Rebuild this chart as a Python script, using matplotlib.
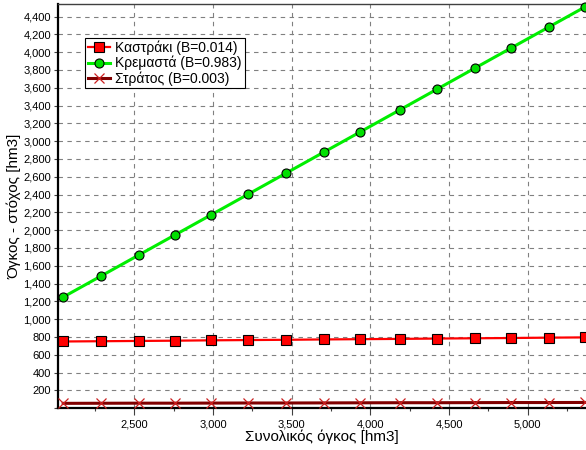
import matplotlib
matplotlib.use("Agg")
import matplotlib.pyplot as plt
from matplotlib.ticker import MultipleLocator, FuncFormatter

plt.rcParams["font.family"] = ["Liberation Sans", "DejaVu Sans"]

# Data
total_volume = [2048, 2290, 2528, 2760, 2985, 3225, 3466, 3704, 3936,
                4186, 4425, 4664, 4894, 5133, 5364]
kastraki = [749, 752, 755, 758, 762, 765, 768, 772, 775,
            778, 782, 785, 788, 792, 795]
kremasta = [1248, 1486, 1720, 1948, 2169, 2405, 2642, 2876, 3104,
            3350, 3585, 3820, 4046, 4281, 4508]
stratos = [54, 55, 56, 56, 57, 58, 58, 59, 60,
           61, 61, 62, 63, 63, 64]

labels = ["Καστράκι (B=0.014)", "Κρεμαστά (B=0.983)", "Στράτος (B=0.003)"]

fig = plt.figure(figsize=(5.86, 4.5), dpi=100)
ax = fig.add_axes([0.099, 0.093, 0.901, 0.898])

ax.plot(total_volume, kastraki, color="#ff0000", lw=1.6, marker="s",
        markersize=6.5, markerfacecolor="#ff0000", markeredgecolor="black",
        markeredgewidth=0.8, label=labels[0], clip_on=False, zorder=4)
ax.plot(total_volume, kremasta, color="#00ee00", lw=2.2, marker="o",
        markersize=6.5, markerfacecolor="#00e000", markeredgecolor="black",
        markeredgewidth=0.8, label=labels[1], clip_on=False, zorder=4)
ax.plot(total_volume, stratos, color="#800000", lw=2.2, marker="x",
        markersize=7, markeredgecolor="#cc2020", markeredgewidth=0.9,
        label=labels[2], clip_on=False, zorder=4)

ax.set_xlim(2015, 5370)
ax.set_ylim(0, 4540)

ax.xaxis.set_major_locator(MultipleLocator(500))
ax.xaxis.set_minor_locator(MultipleLocator(250))
ax.yaxis.set_major_locator(MultipleLocator(200))

fmt = FuncFormatter(lambda v, p: "" if v == 0 else f"{int(v):,}")
ax.xaxis.set_major_formatter(fmt)
ax.yaxis.set_major_formatter(fmt)

ax.tick_params(axis="both", which="major", labelsize=8, length=3,
               width=0.8, color="#404040", pad=2)
ax.tick_params(axis="x", which="minor", length=2.5, width=0.8, color="#404040")
ax.tick_params(axis="x", which="major", length=5, pad=3)

ax.grid(True, which="major", linestyle=(0, (4, 4)), color="#808080", lw=0.8)
ax.set_axisbelow(True)

ax.spines["left"].set_linewidth(1.6)
ax.spines["bottom"].set_linewidth(1.6)
ax.spines["top"].set_color("#404040")
ax.spines["top"].set_linewidth(1)
ax.spines["right"].set_visible(False)

ax.set_xlabel("Συνολικός όγκος [hm3]", fontsize=11, labelpad=0)
ax.set_ylabel("Όγκος - στόχος [hm3]", fontsize=11, labelpad=1)

leg = ax.legend(loc="upper left", bbox_to_anchor=(0.051, 0.916),
                borderaxespad=0, fontsize=10, frameon=True, fancybox=False,
                edgecolor="black", framealpha=1, handlelength=1.6,
                handletextpad=0.4, borderpad=0.2, labelspacing=0.05)
leg.get_frame().set_linewidth(0.8)

fig.savefig("out.png", dpi=100)
